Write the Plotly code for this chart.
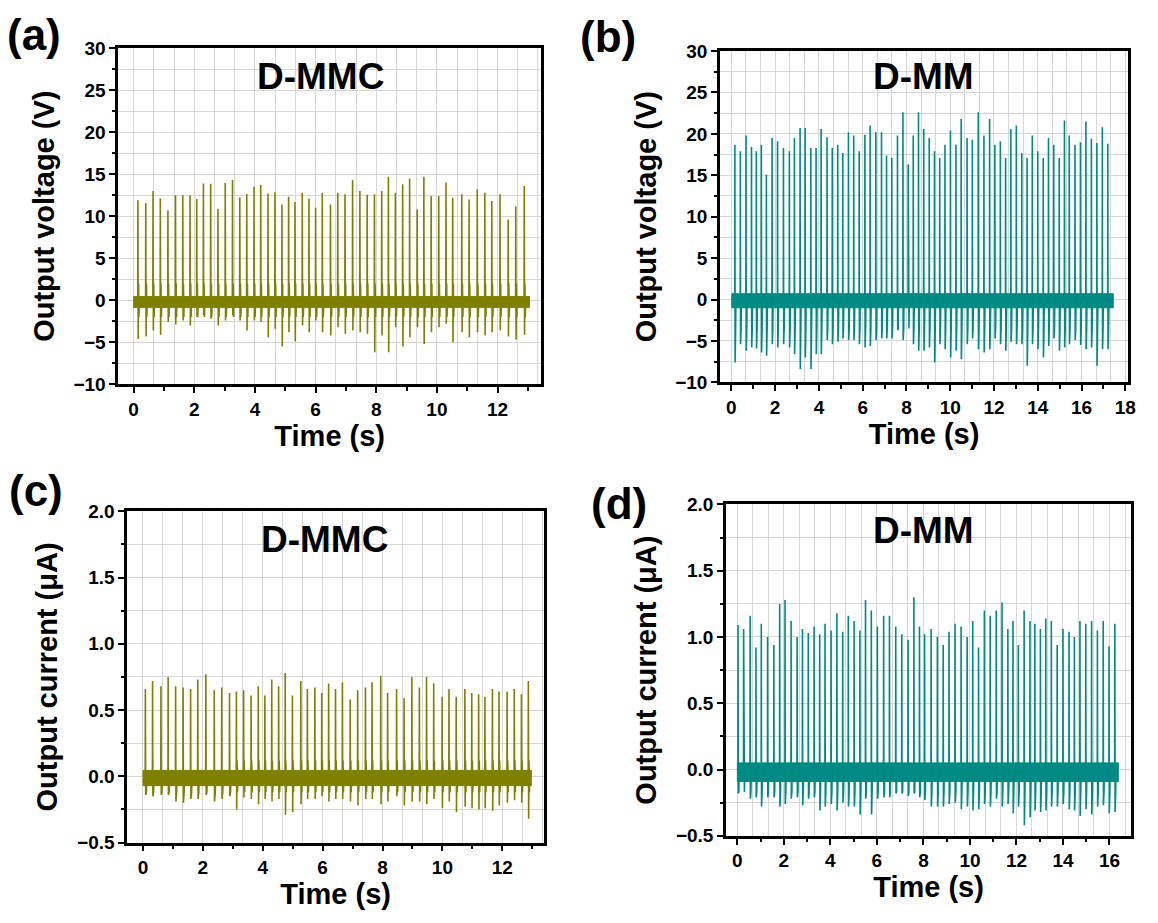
import plotly.graph_objects as go

# ---------------- data ----------------
# (a) D-MMC output voltage (V)
a_t = [0.14, 0.40, 0.64, 0.88, 1.13, 1.38, 1.62, 1.86, 2.08, 2.30, 2.54, 2.78, 3.02, 3.26, 3.50, 3.73,
       3.97, 4.19, 4.43, 4.66, 4.89, 5.11, 5.32, 5.56, 5.78, 6.00, 6.22, 6.49, 6.73, 6.97, 7.22, 7.46,
       7.70, 7.94, 8.18, 8.40, 8.63, 8.87, 9.10, 9.35, 9.57, 9.81, 10.06, 10.30, 10.52, 10.82, 11.06,
       11.33, 11.58, 11.81, 12.08, 12.35, 12.60, 12.88]
a_pos = [11.9, 11.55, 13.0, 12.1, 10.7, 12.5, 12.5, 12.5, 12.05, 13.9, 13.85, 10.9, 13.95, 14.3, 12.25, 12.65,
         13.5, 13.7, 12.7, 12.85, 11.4, 12.3, 11.7, 12.8, 12.1, 11.0, 12.8, 11.4, 12.8, 12.6, 14.3, 13.0,
         12.55, 12.6, 13.0, 14.7, 12.8, 13.8, 14.5, 10.8, 14.7, 12.4, 12.4, 14.0, 12.2, 12.6, 12.0,
         13.2, 12.8, 11.8, 12.6, 9.6, 11.15, 13.6]
a_neg = [-4.6, -4.3, -3.6, -4.1, -2.6, -2.9, -2.4, -3.0, -2.0, -1.8, -2.2, -3.0, -2.4, -1.8, -2.4, -3.6,
         -2.4, -2.6, -4.4, -3.4, -5.5, -3.8, -4.9, -3.0, -3.8, -2.4, -3.8, -4.2, -3.2, -4.0, -3.6, -3.8,
         -4.0, -6.2, -4.2, -6.2, -3.2, -5.5, -4.4, -3.2, -5.2, -3.8, -3.2, -2.8, -5.0, -3.8, -4.4,
         -3.8, -4.2, -3.8, -3.6, -4.3, -4.7, -4.1]
a_span = [0.0, 13.05]
a_band = [-0.85, 0.45]
a_minor = [2.0, -2.0]

# (b) D-MM output voltage (V)
b_t = [0.16, 0.41, 0.67, 0.92, 1.14, 1.37, 1.60, 1.86, 2.11, 2.38, 2.65, 2.88, 3.14, 3.37, 3.63, 3.87,
       4.10, 4.37, 4.61, 4.86, 5.09, 5.35, 5.59, 5.84, 6.10, 6.34, 6.60, 6.86, 7.09,
       7.33, 7.59, 7.84, 8.08, 8.31, 8.55, 8.79, 9.04, 9.28, 9.52, 9.76, 10.01, 10.26, 10.50, 10.77,
       11.01, 11.28, 11.54, 11.80, 12.04, 12.29, 12.53, 12.77, 13.02, 13.27, 13.51, 13.75, 14.00, 14.25,
       14.49, 14.73, 14.98, 15.22, 15.44, 15.70, 15.95, 16.20, 16.45, 16.70, 16.95, 17.20]
b_pos = [18.7, 17.9, 19.8, 18.4, 17.9, 18.7, 15.1, 19.5, 19.1, 18.3, 17.9, 19.5, 20.7, 20.7, 18.3, 18.3,
         20.6, 19.6, 18.3, 18.7, 17.7, 20.2, 19.8, 17.9, 19.9, 21.0, 20.2, 20.2, 17.4,
         17.1, 19.8, 22.6, 16.3, 19.8, 22.6, 20.6, 19.5, 17.9, 17.1, 18.7, 20.4, 18.7, 21.8, 19.5,
         19.3, 22.6, 19.8, 21.8, 18.7, 19.1, 17.1, 20.6, 21.0, 17.7, 17.1, 19.8, 17.9, 17.1,
         19.5, 18.7, 17.1, 21.6, 19.8, 18.7, 19.0, 21.5, 19.4, 18.9, 20.8, 18.8]
b_neg = [-7.6, -5.4, -6.2, -5.8, -5.9, -6.4, -6.8, -5.4, -5.8, -5.4, -5.8, -6.6, -8.4, -7.0, -8.4, -6.6,
         -6.6, -4.9, -5.4, -5.1, -4.7, -4.9, -4.9, -5.4, -5.8, -5.6, -4.9, -4.7, -4.7,
         -4.7, -3.7, -4.9, -3.5, -5.4, -6.2, -6.2, -5.8, -7.6, -5.4, -6.0, -7.0, -6.2, -7.2, -5.4,
         -4.7, -6.0, -6.4, -6.0, -4.7, -5.4, -6.2, -5.1, -5.4, -5.4, -8.0, -5.4, -6.0, -7.0,
         -5.6, -4.7, -6.2, -5.8, -5.4, -4.9, -5.5, -6.0, -5.8, -8.0, -6.0, -6.0]
b_span = [0.02, 17.45]
b_band = [-1.0, 0.7]
b_minor = [1.8, -3.5]

# (c) D-MMC output current (uA)
c_t = [0.08, 0.32, 0.60, 0.84, 1.09, 1.34, 1.59, 1.83, 2.10, 2.38, 2.63, 2.89, 3.12, 3.36, 3.61, 3.85,
       4.07, 4.30, 4.53, 4.75, 4.99, 5.27, 5.49, 5.74, 5.97, 6.20, 6.43, 6.66, 6.92, 7.17, 7.43, 7.65,
       7.94, 8.17, 8.47, 8.72, 8.98, 9.23, 9.47, 9.71, 9.99, 10.22, 10.46, 10.75, 10.98, 11.21, 11.42,
       11.67, 11.89, 12.16, 12.40, 12.64, 12.87]
c_pos = [0.66, 0.72, 0.68, 0.75, 0.68, 0.67, 0.66, 0.73, 0.77, 0.65, 0.67, 0.63, 0.64, 0.65, 0.61, 0.68,
         0.61, 0.73, 0.68, 0.78, 0.61, 0.72, 0.66, 0.67, 0.63, 0.70, 0.66, 0.71, 0.58, 0.65, 0.67, 0.71,
         0.76, 0.63, 0.66, 0.59, 0.75, 0.67, 0.75, 0.70, 0.60, 0.66, 0.60, 0.66, 0.63, 0.62, 0.60,
         0.66, 0.64, 0.64, 0.66, 0.62, 0.72]
c_neg = [-0.14, -0.15, -0.14, -0.14, -0.19, -0.20, -0.17, -0.17, -0.14, -0.19, -0.17, -0.15, -0.25, -0.16,
         -0.17, -0.21, -0.17, -0.19, -0.17, -0.29, -0.27, -0.21, -0.17, -0.17, -0.15, -0.19, -0.17, -0.17,
         -0.19, -0.22, -0.17, -0.17, -0.21, -0.19, -0.15, -0.22, -0.19, -0.19, -0.21, -0.17, -0.24, -0.19,
         -0.27, -0.23, -0.24, -0.25, -0.24, -0.26, -0.22, -0.20, -0.18, -0.20, -0.32]
c_span = [0.0, 12.97]
c_band = [-0.07, 0.045]
c_minor = [0.12, -0.12]

# (d) D-MM output current (uA)
d_t = [0.03, 0.27, 0.55, 0.80, 1.03, 1.30, 1.57, 1.82, 2.05, 2.31, 2.57, 2.80, 3.05, 3.30, 3.54, 3.77,
       4.03, 4.28, 4.53, 4.77, 5.02, 5.27, 5.51, 5.76, 6.02, 6.29, 6.54, 6.81, 7.07, 7.34, 7.59, 7.83,
       8.05, 8.33, 8.60, 8.85, 9.10, 9.36, 9.62, 9.88, 10.12, 10.37, 10.62, 10.87, 11.13, 11.38, 11.63,
       11.85, 12.08, 12.33, 12.58, 12.79, 13.03, 13.26, 13.50, 13.75, 14.00, 14.26, 14.49, 14.73,
       14.98, 15.23, 15.48, 15.73, 15.98, 16.23]
d_pos = [1.09, 1.06, 1.16, 0.92, 1.10, 1.00, 0.94, 1.25, 1.28, 1.12, 1.00, 1.06, 1.03, 1.08, 1.02, 1.10,
         1.05, 1.18, 1.04, 1.16, 1.12, 1.05, 1.28, 1.20, 1.08, 1.16, 1.16, 1.08, 1.02, 0.98, 1.30, 1.08,
         1.02, 1.06, 1.00, 0.94, 1.04, 1.10, 1.08, 1.00, 1.12, 0.92, 1.20, 1.16, 1.20, 1.26, 1.06,
         1.12, 0.94, 1.20, 1.12, 1.10, 1.06, 1.14, 1.12, 0.94, 1.06, 1.04, 1.00, 1.12,
         1.10, 1.12, 1.05, 1.12, 0.93, 1.10]
d_neg = [-0.18, -0.16, -0.22, -0.21, -0.28, -0.21, -0.21, -0.28, -0.26, -0.22, -0.21, -0.27, -0.22, -0.21,
         -0.31, -0.28, -0.26, -0.31, -0.25, -0.28, -0.28, -0.34, -0.22, -0.34, -0.22, -0.21, -0.21, -0.18,
         -0.18, -0.20, -0.18, -0.21, -0.23, -0.28, -0.28, -0.28, -0.26, -0.25, -0.30, -0.28, -0.31, -0.30,
         -0.26, -0.28, -0.22, -0.28, -0.26, -0.33, -0.28, -0.42, -0.36, -0.31, -0.32, -0.31, -0.28, -0.28,
         -0.26, -0.30, -0.31, -0.35, -0.30, -0.34, -0.28, -0.27, -0.33, -0.32]
d_span = [0.0, 16.38]
d_band = [-0.09, 0.05]
d_minor = [0.12, -0.17]

x_ticks_a = [0, 2, 4, 6, 8, 10, 12]
x_ticks_b = [0, 2, 4, 6, 8, 10, 12, 14, 16, 18]
x_ticks_d = [0, 2, 4, 6, 8, 10, 12, 14, 16]

OLIVE = "#808000"
TEAL = "#008a84"
GRID = "#d6d6d6"
FONT = "Liberation Sans, Arial, sans-serif"


def spike_trace(t, pos, neg, span, band, minor):
    base = (band[0] + band[1]) / 2.0
    xs, ys = [span[0]], [base]
    # each pulse: rise to peak, fall to dip, small ringing, back to baseline
    offs = [-0.006, 0.0, 0.010, 0.022, 0.034, 0.048]
    for ti, p, n in zip(t, pos, neg):
        vals = [base, p, n, minor[0], minor[1], base]
        for o, v in zip(offs, vals):
            xs.append(ti + o)
            ys.append(v)
    xs.append(span[1])
    ys.append(base)
    return xs, ys


W, H = 1158, 923
keys = ["1", "2", "3", "4"]
boxes = {  # pixel boxes (left, right, top, bottom)
    "1": (119, 545, 39, 383),
    "2": (725, 1136, 42, 381),
    "3": (128, 548, 513, 852),
    "4": (731, 1139, 506, 845),
}
xranges = {"1": [-0.51, 13.44], "2": [-0.52, 18.13], "3": [-0.53, 13.4], "4": [-0.49, 16.93]}
yranges = {"1": [-10, 30], "2": [-10, 30], "3": [-0.5, 2.0], "4": [-0.5, 2.0]}
xticks = {"1": x_ticks_a, "2": x_ticks_b, "3": x_ticks_a, "4": x_ticks_d}
ytitles = {"1": "Output voltage (V)", "2": "Output voltage (V)",
           "3": "Output current (μA)", "4": "Output current (μA)"}

panels = [
    dict(t=a_t, pos=a_pos, neg=a_neg, span=a_span, band=a_band, minor=a_minor, color=OLIVE),
    dict(t=b_t, pos=b_pos, neg=b_neg, span=b_span, band=b_band, minor=b_minor, color=TEAL),
    dict(t=c_t, pos=c_pos, neg=c_neg, span=c_span, band=c_band, minor=c_minor, color=OLIVE),
    dict(t=d_t, pos=d_pos, neg=d_neg, span=d_span, band=d_band, minor=d_minor, color=TEAL),
]

fig = go.Figure()
for k, p in zip(keys, panels):
    sfx = "" if k == "1" else k
    gk = str(int(k) + 4)
    xs, ys = spike_trace(p["t"], p["pos"], p["neg"], p["span"], p["band"], p["minor"])
    fig.add_trace(go.Scatter(x=xs, y=ys, mode="lines", line=dict(color=p["color"], width=1.6),
                             xaxis="x" + sfx, yaxis="y" + sfx, showlegend=False))
    # dense noise band around the baseline (on the overlay axis that carries the vertical grid)
    fig.add_trace(go.Scatter(
        x=[p["span"][0], p["span"][1], p["span"][1], p["span"][0], p["span"][0]],
        y=[p["band"][1], p["band"][1], p["band"][0], p["band"][0], p["band"][1]],
        fill="toself", fillcolor=p["color"], mode="lines",
        line=dict(color=p["color"], width=1), xaxis="x" + gk, yaxis="y" + sfx,
        showlegend=False, hoverinfo="skip"))

tickfont = dict(family=FONT, size=19, color="black", weight="bold")
titlefont = dict(family=FONT, size=29, color="black", weight="bold")

layout = dict(width=W, height=H, margin=dict(l=0, r=0, t=0, b=0),
              paper_bgcolor="white", plot_bgcolor="white", showlegend=False)

for k in keys:
    l, r, t, b = boxes[k]
    xd = [l / W, r / W]
    yd = [1 - b / H, 1 - t / H]
    sfx = "" if k == "1" else k
    gk = str(int(k) + 4)
    volt = k in ("1", "2")
    layout["xaxis" + sfx] = dict(
        domain=xd, range=xranges[k], anchor="y" + sfx,
        tickvals=xticks[k], ticks="outside", ticklen=6, tickwidth=2, tickcolor="black",
        minor=dict(dtick=1, tick0=0, ticks="outside", ticklen=3.5, tickwidth=1.5, tickcolor="black", showgrid=False),
        showgrid=False, zeroline=False, showline=True, linecolor="black", linewidth=2.5, mirror=True,
        tickfont=tickfont, title=dict(text="Time (s)", font=titlefont, standoff=7))
    layout["yaxis" + sfx] = dict(
        domain=yd, range=yranges[k], anchor="x" + sfx,
        dtick=5 if volt else 0.5, tick0=0, tickformat="d" if volt else ".1f",
        ticks="outside", ticklen=6, tickwidth=2, tickcolor="black",
        minor=dict(dtick=2.5 if volt else 0.25, tick0=0, ticks="outside", ticklen=3.5, tickwidth=1.5,
                   tickcolor="black", showgrid=True, gridcolor=GRID, gridwidth=1),
        showgrid=True, gridcolor=GRID, gridwidth=1,
        zeroline=False, showline=True, linecolor="black", linewidth=2.5, mirror=True,
        tickfont=tickfont, title=dict(text=ytitles[k], font=titlefont, standoff=11))
    # overlay axis that carries the vertical grid
    layout["xaxis" + gk] = dict(
        overlaying="x" + sfx, anchor="y" + sfx, range=xranges[k], dtick=2 / 3, tick0=0,
        showgrid=True, gridcolor=GRID, gridwidth=1, showticklabels=False, ticks="",
        showline=False, zeroline=False)

fig.update_layout(**layout)

ann = [
    ("(a)", 34, 25, 44), ("(b)", 612, 27, 44), ("(c)", 36, 492, 44), ("(d)", 623, 505, 44),
    ("D-MMC", 323, 68, 37), ("D-MM", 930, 68, 37), ("D-MMC", 327, 542, 37), ("D-MM", 930, 533, 37),
]
for txt, px, py, sz in ann:
    fig.add_annotation(text=txt, x=px / W, y=1 - py / H, xref="paper", yref="paper",
                       xanchor="center", yanchor="middle", showarrow=False,
                       font=dict(family=FONT, size=sz, color="black", weight="bold"))

fig.write_html("out.html")
